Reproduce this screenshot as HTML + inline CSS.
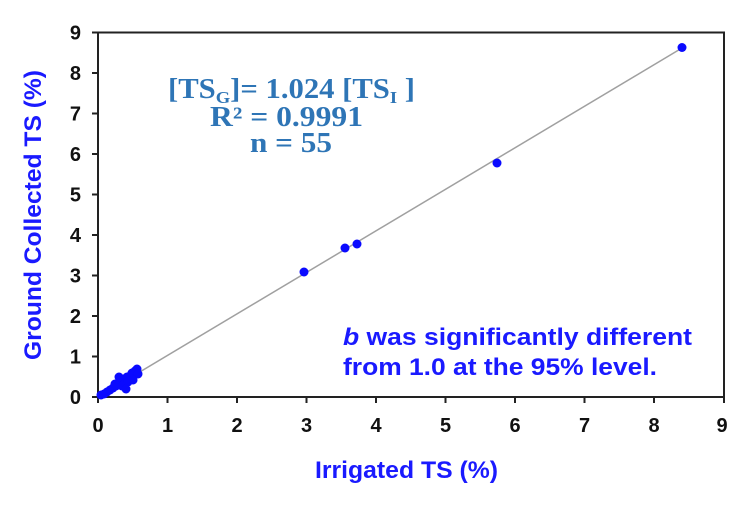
<!DOCTYPE html>
<html><head><meta charset="utf-8"><style>body{margin:0;background:#fff}svg{display:block}</style></head><body>
<svg width="750" height="509" viewBox="0 0 750 509" xmlns="http://www.w3.org/2000/svg" font-family="Liberation Sans, Arial, sans-serif">
<rect width="750" height="509" fill="#fff"/>
<line x1="98" y1="397" x2="682" y2="48" stroke="#a0a0a0" stroke-width="1.5"/>
<rect x="98" y="32.5" width="626" height="364.5" fill="none" stroke="#222" stroke-width="2"/>
<g stroke="#222" stroke-width="2">
<line x1="98" y1="397" x2="98" y2="403"/><line x1="167.5" y1="397" x2="167.5" y2="403"/><line x1="237" y1="397" x2="237" y2="403"/><line x1="306.5" y1="397" x2="306.5" y2="403"/><line x1="376" y1="397" x2="376" y2="403"/><line x1="445.5" y1="397" x2="445.5" y2="403"/><line x1="515" y1="397" x2="515" y2="403"/><line x1="584.5" y1="397" x2="584.5" y2="403"/><line x1="654" y1="397" x2="654" y2="403"/><line x1="724" y1="397" x2="724" y2="403"/>
<line x1="92" y1="397" x2="98" y2="397"/><line x1="92" y1="356.5" x2="98" y2="356.5"/><line x1="92" y1="316" x2="98" y2="316"/><line x1="92" y1="275.5" x2="98" y2="275.5"/><line x1="92" y1="235" x2="98" y2="235"/><line x1="92" y1="194.5" x2="98" y2="194.5"/><line x1="92" y1="154" x2="98" y2="154"/><line x1="92" y1="113.5" x2="98" y2="113.5"/><line x1="92" y1="73" x2="98" y2="73"/><line x1="92" y1="32.5" x2="98" y2="32.5"/>
</g>
<g font-size="20" font-weight="bold" fill="#111" text-anchor="middle">
<text x="98" y="432">0</text><text x="167.5" y="432">1</text><text x="237" y="432">2</text><text x="306.5" y="432">3</text><text x="376" y="432">4</text><text x="445.5" y="432">5</text><text x="515" y="432">6</text><text x="584.5" y="432">7</text><text x="654" y="432">8</text><text x="722" y="432">9</text>
</g>
<g font-size="20" font-weight="bold" fill="#111" text-anchor="end">
<text x="81" y="404">0</text><text x="81" y="363.5">1</text><text x="81" y="323">2</text><text x="81" y="282.5">3</text><text x="81" y="242">4</text><text x="81" y="201.5">5</text><text x="81" y="161">6</text><text x="81" y="120.5">7</text><text x="81" y="80">8</text><text x="81" y="39.5">9</text>
</g>
<text x="315" y="478" font-size="24" font-weight="bold" fill="#1a1aff" textLength="183" lengthAdjust="spacingAndGlyphs">Irrigated TS (%)</text>
<text transform="translate(41,360) rotate(-90)" font-size="24" font-weight="bold" fill="#1a1aff" textLength="290" lengthAdjust="spacingAndGlyphs">Ground Collected TS (%)</text>
<g fill="#2e75b6" font-family="Liberation Serif, serif" font-weight="bold" font-size="28">
<text x="168" y="98" textLength="247" lengthAdjust="spacingAndGlyphs">[TS<tspan font-size="17" dy="5">G</tspan><tspan dy="-5">]= 1.024 [TS</tspan><tspan font-size="17" dy="5">I</tspan><tspan dy="-5"> ]</tspan></text>
<text x="210" y="126" textLength="153" lengthAdjust="spacingAndGlyphs">R² = 0.9991</text>
<text x="250" y="152" textLength="82" lengthAdjust="spacingAndGlyphs">n = 55</text>
</g>
<g fill="#1a1aff" font-size="24" font-weight="bold">
<text x="343" y="345" textLength="349" lengthAdjust="spacingAndGlyphs"><tspan font-style="italic">b</tspan> was significantly different</text>
<text x="343" y="375" textLength="314" lengthAdjust="spacingAndGlyphs">from 1.0 at the 95% level.</text>
</g>
<g fill="#0a0aff">
<circle cx="682" cy="47.5" r="4.5"/><circle cx="497" cy="163" r="4.5"/><circle cx="357" cy="244" r="4.5"/><circle cx="345" cy="248" r="4.5"/><circle cx="304" cy="272" r="4.5"/>
<circle cx="101" cy="395" r="4.5"/><circle cx="104" cy="394" r="4.5"/><circle cx="107" cy="392" r="4.5"/><circle cx="110" cy="390" r="4.5"/><circle cx="113" cy="388" r="4.5"/><circle cx="116" cy="386" r="4.5"/><circle cx="118" cy="383" r="4.5"/><circle cx="121" cy="382" r="4.5"/><circle cx="115" cy="384" r="4.5"/><circle cx="124" cy="379" r="4.5"/><circle cx="127" cy="377" r="4.5"/><circle cx="130" cy="376" r="4.5"/><circle cx="122" cy="386" r="4.5"/><circle cx="126" cy="389" r="4.5"/><circle cx="128" cy="382" r="4.5"/><circle cx="132" cy="373" r="4.5"/><circle cx="135" cy="371" r="4.5"/><circle cx="137" cy="369" r="4.5"/><circle cx="138" cy="374" r="4.5"/><circle cx="133" cy="380" r="4.5"/><circle cx="119" cy="377" r="4.5"/>
</g>
</svg>
</body></html>
